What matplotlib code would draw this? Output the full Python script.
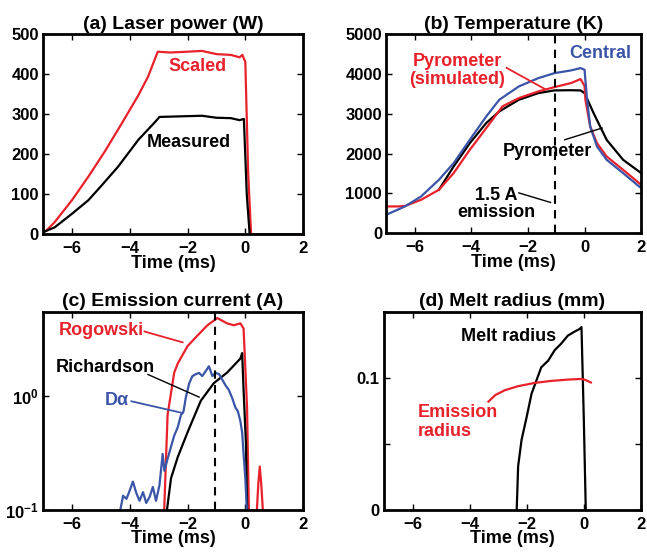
import matplotlib as mpl
import matplotlib.pyplot as plt
import numpy as np

mpl.use('Agg')

plt.rcParams['font.family'] = ['Liberation Sans', 'DejaVu Sans']
plt.rcParams['font.weight'] = 'bold'
plt.rcParams['mathtext.fontset'] = 'custom'
plt.rcParams['mathtext.rm'] = 'Liberation Sans:bold'
plt.rcParams['mathtext.bf'] = 'Liberation Sans:bold'
plt.rcParams['mathtext.it'] = 'Liberation Sans:bold'

RED = '#e8212b'
BLUE = '#3a54a8'

# (a) laser power
scaled_t = [-7.0, -6.9, -6.6, -6.0, -5.43, -4.86, -4.29, -3.71, -3.37, -3.03, -2.6, -2.0, -1.5,
            -1.0, -0.5, -0.2, -0.1, 0.0, 0.1, 0.2, 2.0]
scaled_p = [5, 8, 30, 85, 144, 207, 275, 346, 393, 456, 454, 456, 458, 450, 448, 442, 448, 430,
            150, 0, 0]
meas_t = [-7.0, -6.6, -6.0, -5.43, -4.97, -4.4, -3.7, -3.14, -2.97, -2.5, -2.0, -1.5, -1.0,
          -0.5, -0.2, -0.05, 0.05, 0.15]
meas_p = [5, 17, 51, 85, 122, 169, 236, 279, 293, 294, 295, 296, 291, 290, 285, 288, 100, 0]

# (b) temperature
pyro_t = [-5.14, -4.62, -4.05, -3.47, -3.01, -2.32, -1.63, -1.06, -0.5, -0.14, 0.0, 0.32, 0.78,
          1.36, 2.0]
pyro_T = [1090, 1675, 2260, 2765, 3057, 3350, 3518, 3585, 3590, 3585, 3518, 3015, 2345, 1843,
          1508]
sim_t = [-7.0, -6.6, -6.34, -5.77, -5.14, -4.62, -4.05, -3.47, -2.9, -2.32, -1.63, -1.06, -0.48,
         -0.14, 0.0, 0.03, 0.2, 0.44, 0.78, 1.36, 2.0]
sim_T = [670, 670, 680, 837, 1089, 1508, 2094, 2638, 3183, 3392, 3560, 3668, 3769, 3869, 3700,
         3350, 2680, 2261, 1926, 1591, 1214]
cen_t = [-7.0, -6.34, -5.77, -5.14, -4.62, -4.05, -3.47, -3.01, -2.32, -1.63, -1.06, -0.48,
         -0.14, 0.0, 0.09, 0.2, 0.44, 0.78, 1.36, 2.0]
cen_T = [461, 670, 921, 1340, 1759, 2345, 2931, 3350, 3685, 3894, 4020, 4087, 4146, 4104, 3350,
         2680, 2177, 1843, 1508, 1130]

# (c) emission current
rog_t = [-2.82, -2.69, -2.46, -2.34, -2.0, -1.66, -1.31, -0.97, -0.63, -0.4, -0.17, -0.06,
         0.06, 0.13]
rog_i = [0.08, 0.686, 1.61, 1.93, 2.75, 3.4, 4.2, 4.86, 4.36, 4.2, 4.36, 3.93, 0.79, 0.08]
rog_spike_t = [0.38, 0.45, 0.5, 0.55, 0.63]
rog_spike_i = [0.08, 0.17, 0.24, 0.17, 0.08]
rich_t = [-2.76, -2.57, -2.34, -2.0, -1.54, -1.09, -0.63, -0.17, -0.11, -0.06, 0.02, 0.07]
rich_i = [0.08, 0.19, 0.29, 0.48, 0.91, 1.30, 1.61, 2.14, 2.39, 1.13, 0.39, 0.08]
da_t = [-4.36, -4.23, -4.11, -4.0, -3.89, -3.77, -3.66, -3.54, -3.43, -3.31, -3.2, -3.09,
        -2.97, -2.86, -2.8, -2.69, -2.57, -2.46, -2.34, -2.23, -2.14, -2.06, -1.94, -1.83,
        -1.71, -1.6, -1.49, -1.37, -1.26, -1.14, -1.03, -0.91, -0.8, -0.69, -0.57, -0.46,
        -0.34, -0.26, -0.17, -0.11, -0.06, 0.0, 0.07]
da_i = [0.09, 0.133, 0.125, 0.148, 0.177, 0.14, 0.12, 0.143, 0.115, 0.13, 0.159, 0.12, 0.165,
        0.31, 0.22, 0.28, 0.36, 0.45, 0.53, 0.68, 0.73, 0.97, 1.3, 1.5, 1.56, 1.6, 1.5, 1.66,
        1.83, 1.5, 1.6, 1.56, 1.4, 1.25, 1.13, 0.97, 0.79, 0.74, 0.6, 0.48, 0.31, 0.19, 0.08]

# (d) melt radius
melt_t = [-2.35, -2.3, -2.18, -2.0, -1.83, -1.66, -1.49, -1.25, -1.02, -0.79, -0.56, -0.33,
          -0.15, -0.08, 0.0, 0.07]
melt_r = [0.0, 0.033, 0.053, 0.0705, 0.088, 0.098, 0.108, 0.113, 0.121, 0.126, 0.132, 0.135,
          0.137, 0.1385, 0.07, 0.0]
emis_t = [-3.34, -3.1, -2.76, -2.3, -1.72, -1.14, -0.56, -0.1, 0.03, 0.25]
emis_r = [0.082, 0.087, 0.0907, 0.0937, 0.0962, 0.0977, 0.0987, 0.0992, 0.0987, 0.0965]

xticks = [-6, -4, -2, 0, 2]

fig = plt.figure(figsize=(6.47, 5.59), dpi=100)
axa = fig.add_axes([0.0665, 0.581, 0.402, 0.358])
axb = fig.add_axes([0.597, 0.583, 0.394, 0.356])
axc = fig.add_axes([0.0665, 0.088, 0.402, 0.354])
axd = fig.add_axes([0.5935, 0.088, 0.397, 0.354])

for ax in (axa, axb, axc, axd):
    ax.set_xlim(-7, 2)
    ax.set_xticks(xticks)
    for s in ax.spines.values():
        s.set_linewidth(2)
    ax.tick_params(direction='in', top=True, right=True, length=4, width=1,
                   labelsize=12, pad=3)
    ax.tick_params(axis='x', pad=5)
    ax.set_xlabel('Time (ms)', fontsize=13, fontweight='bold', labelpad=-1)

# (a)
axa.plot(scaled_t, scaled_p, color=RED, lw=1.6)
axa.plot(meas_t, meas_p, color='k', lw=1.6)
axa.set_ylim(0, 500)
axa.set_yticks([0, 100, 200, 300, 400, 500])
axa.set_title('(a) Laser power (W)', fontsize=14, fontweight='bold', pad=4)
axa.text(-1.66, 418, 'Scaled', color=RED, fontsize=13, ha='center', va='center')
axa.text(-1.94, 228, 'Measured', color='k', fontsize=13, ha='center', va='center')

# (b)
axb.plot(pyro_t, pyro_T, color='k', lw=1.6)
axb.plot(sim_t, sim_T, color=RED, lw=1.6)
axb.plot(cen_t, cen_T, color=BLUE, lw=1.6)
axb.axvline(-1.05, color='k', lw=1.5, ls=(0, (4, 3)))
axb.set_ylim(0, 5000)
axb.set_yticks([0, 1000, 2000, 3000, 4000, 5000])
axb.set_title('(b) Temperature (K)', fontsize=14, fontweight='bold', pad=4)
axb.text(-4.5, 4080, 'Pyrometer\n(simulated)', color=RED, fontsize=13, ha='center',
         va='center', linespacing=1.05)
axb.plot([-2.75, -1.4], [4150, 3620], color=RED, lw=1.3)
axb.text(0.55, 4520, 'Central', color=BLUE, fontsize=13, ha='center', va='center')
axb.text(-1.3, 2050, 'Pyrometer', color='k', fontsize=13, ha='center', va='center')
axb.plot([-0.7, 0.62], [2345, 2640], color='k', lw=1.0)
axb.text(-3.1, 720, '1.5 A\nemission', color='k', fontsize=13, ha='center', va='center',
         linespacing=1.0)
axb.plot([-2.32, -1.2], [1010, 770], color='k', lw=1.0)

# (c)
axc.set_yscale('log')
axc.plot(rog_t, rog_i, color=RED, lw=1.6)
axc.plot(rog_spike_t, rog_spike_i, color=RED, lw=1.6)
axc.plot(rich_t, rich_i, color='k', lw=1.6)
axc.plot(da_t, da_i, color=BLUE, lw=1.6)
axc.axvline(-1.05, color='k', lw=1.5, ls=(0, (4, 3)))
axc.set_ylim(0.1, 5.5)
axc.set_yticks([0.1, 1])
axc.set_yticklabels([r'$\mathbf{10^{-1}}$', r'$\mathbf{10^{0}}$'])
axc.yaxis.set_minor_locator(mpl.ticker.NullLocator())
axc.set_title('(c) Emission current (A)', fontsize=14, fontweight='bold', pad=4)
axc.text(-4.97, 3.8, 'Rogowski', color=RED, fontsize=13, ha='center', va='center')
axc.plot([-3.49, -2.17], [3.7, 2.97], color=RED, lw=1.3)
axc.text(-4.86, 1.8, 'Richardson', color='k', fontsize=13, ha='center', va='center')
axc.plot([-3.37, -1.6], [1.55, 0.98], color='k', lw=1.0)
axc.text(-4.45, 0.91, 'Dα', color=BLUE, fontsize=13, ha='center', va='center')
axc.plot([-3.94, -2.17], [0.9, 0.71], color=BLUE, lw=1.3)

# (d)
axd.plot(melt_t, melt_r, color='k', lw=1.6)
axd.plot(emis_t, emis_r, color=RED, lw=1.6)
axd.set_ylim(0, 0.15)
axd.set_yticks([0, 0.05, 0.1, 0.15])
axd.set_yticklabels(['0', '', '0.1', ''])
axd.set_title('(d) Melt radius (mm)', fontsize=14, fontweight='bold', pad=4)
axd.text(-2.64, 0.131, 'Melt radius', color='k', fontsize=13, ha='center', va='center')
axd.text(-5.82, 0.0665, 'Emission\nradius', color=RED, fontsize=13, ha='left', va='center',
         linespacing=1.1)

for ax in (axa, axb, axc, axd):
    for lab in ax.get_xticklabels() + ax.get_yticklabels():
        lab.set_fontweight('bold')

fig.savefig('out.png', dpi=100)
